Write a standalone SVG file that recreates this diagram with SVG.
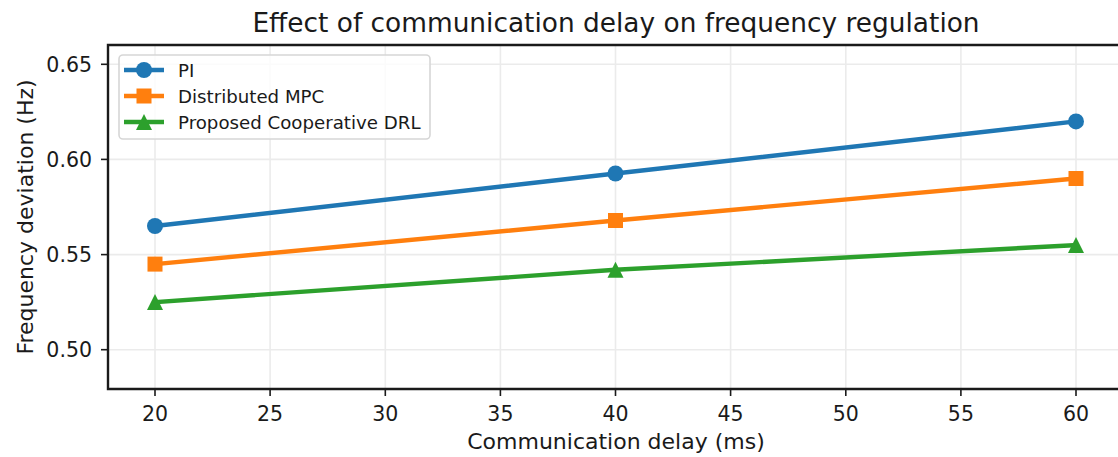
<svg xmlns="http://www.w3.org/2000/svg" width="1118" height="457" viewBox="0 0 1118 457">
<style>
text{font-family:"DejaVu Sans",sans-serif;fill:#1a1a1a}
.grid line{stroke:#ebebeb;stroke-width:1.6}
.tick line{stroke:#1a1a1a;stroke-width:1.6}
.yt{font-size:20.5px;text-anchor:end}
.xt{font-size:20.5px;text-anchor:middle}
.lab{font-size:22px;text-anchor:middle}
.ser{fill:none;stroke-width:4.4;stroke-linejoin:round;stroke-linecap:square}
.leg{font-size:18.2px}
</style>
<rect width="1118" height="457" fill="#ffffff"/>
<g id="grid" class="grid">
<line x1="155" y1="45" x2="155" y2="389"/>
<line x1="270.1" y1="45" x2="270.1" y2="389"/>
<line x1="385.3" y1="45" x2="385.3" y2="389"/>
<line x1="500.4" y1="45" x2="500.4" y2="389"/>
<line x1="615.5" y1="45" x2="615.5" y2="389"/>
<line x1="730.6" y1="45" x2="730.6" y2="389"/>
<line x1="845.8" y1="45" x2="845.8" y2="389"/>
<line x1="960.9" y1="45" x2="960.9" y2="389"/>
<line x1="1076" y1="45" x2="1076" y2="389"/>
<line x1="108" y1="349.7" x2="1118" y2="349.7"/>
<line x1="108" y1="254.6" x2="1118" y2="254.6"/>
<line x1="108" y1="159.4" x2="1118" y2="159.4"/>
<line x1="108" y1="64.3" x2="1118" y2="64.3"/>
</g>
<g id="connectors">
<polyline class="ser" stroke="#1f77b4" points="155,226 615.5,173.5 1076,121.4"/>
<polyline class="ser" stroke="#ff7f0e" points="155,264.1 615.5,220.5 1076,178.5"/>
<polyline class="ser" stroke="#2ca02c" points="155,302.1 615.5,269.8 1076,245.1"/>
</g>
<g id="series-pi" fill="#1f77b4">
<circle cx="155" cy="226" r="8"/>
<circle cx="615.5" cy="173.5" r="8"/>
<circle cx="1076" cy="121.4" r="8"/>
</g>
<g id="series-mpc" fill="#ff7f0e">
<rect x="147.5" y="256.6" width="15" height="15"/>
<rect x="608" y="213" width="15" height="15"/>
<rect x="1068.5" y="171" width="15" height="15"/>
</g>
<g id="series-drl" fill="#2ca02c">
<polygon points="155,294.1 147,310.1 163,310.1"/>
<polygon points="615.5,261.8 607.5,277.8 623.5,277.8"/>
<polygon points="1076,237.1 1068,253.1 1084,253.1"/>
</g>
<g id="axes">
<path d="M1118,45 H108 V389 H1118" fill="none" stroke="#1a1a1a" stroke-width="2.4"/>
<g class="tick">
<line x1="155" y1="389" x2="155" y2="396"/>
<line x1="270.1" y1="389" x2="270.1" y2="396"/>
<line x1="385.3" y1="389" x2="385.3" y2="396"/>
<line x1="500.4" y1="389" x2="500.4" y2="396"/>
<line x1="615.5" y1="389" x2="615.5" y2="396"/>
<line x1="730.6" y1="389" x2="730.6" y2="396"/>
<line x1="845.8" y1="389" x2="845.8" y2="396"/>
<line x1="960.9" y1="389" x2="960.9" y2="396"/>
<line x1="1076" y1="389" x2="1076" y2="396"/>
<line x1="101" y1="349.7" x2="108" y2="349.7"/>
<line x1="101" y1="254.6" x2="108" y2="254.6"/>
<line x1="101" y1="159.4" x2="108" y2="159.4"/>
<line x1="101" y1="64.3" x2="108" y2="64.3"/>
</g>
<text class="xt" x="155" y="420.5">20</text>
<text class="xt" x="270.1" y="420.5">25</text>
<text class="xt" x="385.3" y="420.5">30</text>
<text class="xt" x="500.4" y="420.5">35</text>
<text class="xt" x="615.5" y="420.5">40</text>
<text class="xt" x="730.6" y="420.5">45</text>
<text class="xt" x="845.8" y="420.5">50</text>
<text class="xt" x="960.9" y="420.5">55</text>
<text class="xt" x="1076" y="420.5">60</text>
<text class="yt" x="92" y="357.2">0.50</text>
<text class="yt" x="92" y="262.1">0.55</text>
<text class="yt" x="92" y="166.9">0.60</text>
<text class="yt" x="92" y="71.8">0.65</text>
<text class="lab" x="616" y="449">Communication delay (ms)</text>
<text class="lab" transform="translate(33.3,217) rotate(-90)">Frequency deviation (Hz)</text>
<text x="616" y="32" style="font-size:26.4px;text-anchor:middle">Effect of communication delay on frequency regulation</text>
</g>
<g id="legend">
<rect x="119" y="55" width="311" height="84" rx="4" fill="#ffffff" fill-opacity="0.8" stroke="#d6d6d6" stroke-width="1.6"/>
<line x1="124" y1="70" x2="164" y2="70" stroke="#1f77b4" stroke-width="4.4"/>
<circle cx="144" cy="70" r="8" fill="#1f77b4"/>
<text class="leg" x="178" y="76.5">PI</text>
<line x1="124" y1="96" x2="164" y2="96" stroke="#ff7f0e" stroke-width="4.4"/>
<rect x="136.5" y="88.5" width="15" height="15" fill="#ff7f0e"/>
<text class="leg" x="178" y="102.5">Distributed MPC</text>
<line x1="124" y1="122" x2="164" y2="122" stroke="#2ca02c" stroke-width="4.4"/>
<polygon points="144,114 136,130 152,130" fill="#2ca02c"/>
<text class="leg" x="178" y="128.5">Proposed Cooperative DRL</text>
</g>
</svg>
